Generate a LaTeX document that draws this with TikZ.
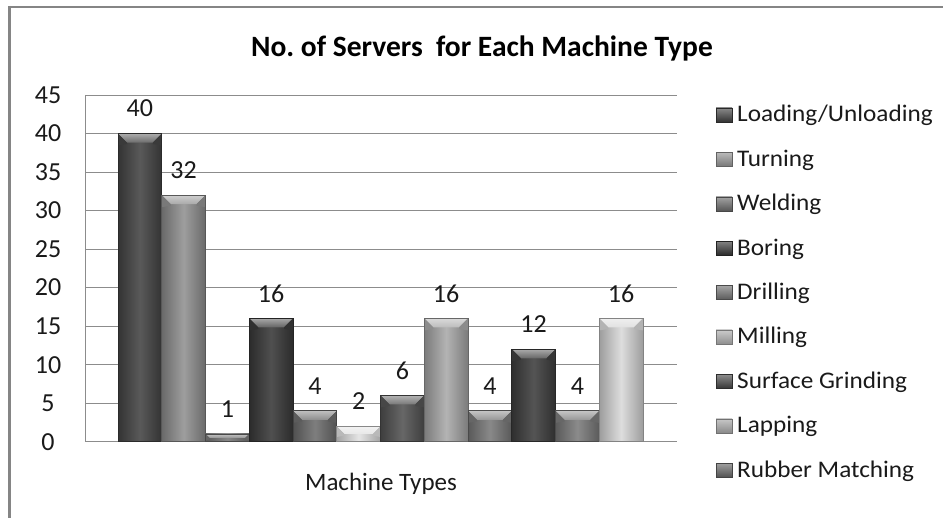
\documentclass[tikz,border=0pt]{standalone}
\usepackage{fontspec}
\setmainfont{Carlito}
\usepackage{graphicx}
\definecolor{gridc}{HTML}{8C8C8C}
\definecolor{framec}{HTML}{858585}
\definecolor{txt}{HTML}{1A1A1A}
\definecolor{cA}{HTML}{474747}
\definecolor{cB}{HTML}{939393}
\definecolor{cC}{HTML}{7A7A7A}
\definecolor{cD}{HTML}{3C3C3C}
\definecolor{cE}{HTML}{707070}
\definecolor{cF}{HTML}{E2E2E2}
\definecolor{cG}{HTML}{565656}
\definecolor{cH}{HTML}{ABABAB}
\definecolor{cI}{HTML}{7C7C7C}
\definecolor{cJ}{HTML}{414141}
\definecolor{cK}{HTML}{7E7E7E}
\definecolor{cL}{HTML}{DADADA}
\definecolor{mA}{HTML}{3A3A3A}
\definecolor{mB}{HTML}{8C8C8C}
\definecolor{mC}{HTML}{666666}
\definecolor{mD}{HTML}{303030}
\definecolor{mE}{HTML}{6A6A6A}
\definecolor{mF}{HTML}{A8A8A8}
\definecolor{mG}{HTML}{404040}
\definecolor{mH}{HTML}{A2A2A2}
\definecolor{mI}{HTML}{606060}
\tikzset{
  gridline/.style={draw=gridc, line width=1pt},
  frameline/.style={draw=framec, line width=2.3pt},
  ticklab/.style={inner sep=0pt, text=txt, font=\fontsize{26}{29}\selectfont, anchor=center},
  datalab/.style={inner sep=0pt, text=txt, font=\fontsize{26}{29}\selectfont, anchor=center},
  legtext/.style={inner sep=0pt, text=txt, anchor=base west},
  titlelab/.style={inner sep=0pt, text=black, font=\bfseries\fontsize{29.5}{33}\selectfont, anchor=base},
  axislab/.style={inner sep=0pt, text=txt, font=\fontsize{25}{28}\selectfont, anchor=base},
}
\newcommand{\legfont}[1]{\scalebox{1.06}[1]{\fontsize{23.8}{26}\selectfont #1}}
\begin{document}
\begin{tikzpicture}[x=1pt,y=-1pt]
\useasboundingbox (0,0) rectangle (943,518);
\fill[white] (0,0) rectangle (943,518);
% frame
\draw[frameline] (8,7.2) -- (943,7.2);
\draw[frameline] (9.5,6) -- (9.5,518);
% title
\node[titlelab] (title) at (482,57) {No.\ of Servers\ \ for Each Machine Type};
% grid
\foreach \v in {0,5,...,45}{
  \pgfmathsetmacro{\yy}{441.7-7.704*\v}
  \draw[gridline] (85,\yy) -- (677,\yy);
  \node[ticklab] (tick\v) at (48,\yy) {\v};
}
\draw[gridline] (85,95) -- (85,441.7);
% bars
\foreach \i/\val/\c in {0/40/cA,1/32/cB,2/1/cC,3/16/cD,4/4/cE,5/2/cF,6/6/cG,7/16/cH,8/4/cI,9/12/cJ,10/4/cK,11/16/cL}{
  \pgfmathsetmacro{\xa}{118+43.75*\i}
  \pgfmathsetmacro{\xb}{\xa+43.75}
  \pgfmathsetmacro{\xm}{\xa+21.875}
  \pgfmathsetmacro{\top}{441.7-7.704*\val}
  \pgfmathsetmacro{\bev}{min(9,7.704*\val/2)}
  \shade[left color=\c!72!black, right color=\c!72!black, middle color=\c!90!white]
     (\xa,\top) rectangle (\xb,441.7);
  \shade[top color=\c!45!white, bottom color=\c!80!white] (\xa,\top) -- (\xb,\top) -- (\xb-\bev,\top+\bev) -- (\xa+\bev,\top+\bev) -- cycle;
  \fill[\c!82!black] (\xa,\top) -- (\xa+\bev,\top+\bev) -- (\xa+\bev,\top+\bev+1.5) -- (\xa,\top+\bev+3) -- cycle;
  \fill[\c!82!black] (\xb,\top) -- (\xb-\bev,\top+\bev) -- (\xb-\bev,\top+\bev+1.5) -- (\xb,\top+\bev+3) -- cycle;
  \draw[\c!60!black, line width=0.8pt] (\xa,441.7) rectangle (\xb,\top);
  \node[datalab] (lab\i) at (\xm,\top-25) {\val};
}
% x axis title
\node[axislab] (xtitle) at (381,490) {Machine Types};
% legend
\foreach \j/\name/\c in {0/Loading\slash Unloading/mA,1/Turning/mB,2/Welding/mC,3/Boring/mD,4/Drilling/mE,5/Milling/mF,6/Surface Grinding/mG,7/Lapping/mH,8/Rubber Matching/mI}{
  \pgfmathsetmacro{\yb}{122+44.4*\j}
  \shade[top color=\c!60!white, bottom color=\c!85!black] (716,\yb-14) rectangle (732,\yb);
  \draw[\c!70!black, line width=0.5pt] (716,\yb-14) rectangle (732,\yb);
  \node[legtext] (leg\j) at (737,\yb) {\legfont{\name}};
}
\end{tikzpicture}
\end{document}
